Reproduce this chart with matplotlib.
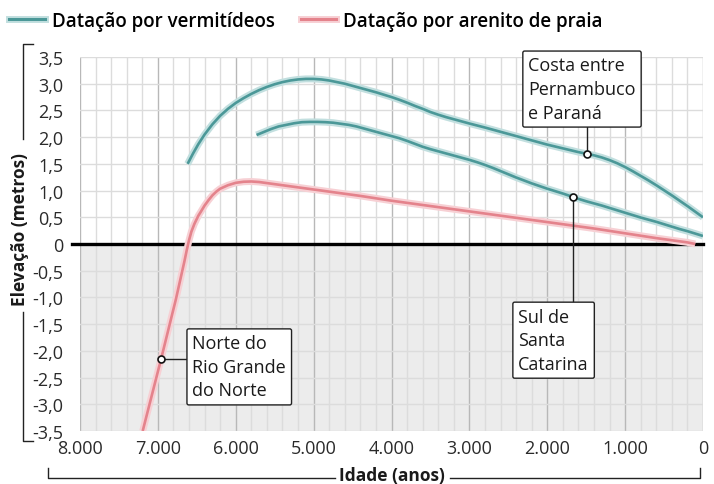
import matplotlib
matplotlib.use('Agg')
import matplotlib.pyplot as plt
import matplotlib.patheffects as pe
from matplotlib.lines import Line2D
from matplotlib.ticker import MultipleLocator, FixedLocator, FixedFormatter

plt.rcParams['font.family'] = ['Open Sans', 'DejaVu Sans']

# ----------------------------- data -----------------------------------
# Costa entre Pernambuco e Parana (vermitideos)
costa_x = [6618, 6550, 6480, 6400, 6300, 6200, 6100, 6000, 5900, 5800, 5700,
           5600, 5500, 5400, 5300, 5200, 5100, 5000, 4900, 4800, 4700, 4600,
           4500, 4400, 4300, 4200, 4100, 4000, 3900, 3800, 3700, 3600, 3500,
           3400, 3300, 3200, 3100, 3000, 2800, 2600, 2400, 2200, 2000, 1800,
           1600, 1500, 1400, 1300, 1200, 1100, 1000, 900, 800, 700, 600, 500,
           400, 300, 200, 100, 0]
costa_y = [1.50, 1.69, 1.87, 2.05, 2.24, 2.40, 2.53, 2.64, 2.73, 2.81, 2.88,
           2.94, 2.99, 3.03, 3.06, 3.08, 3.09, 3.09, 3.08, 3.06, 3.03, 3.00,
           2.96, 2.92, 2.88, 2.84, 2.795, 2.75, 2.70, 2.645, 2.585, 2.53, 2.47,
           2.42, 2.375, 2.335, 2.295, 2.255, 2.18, 2.10, 2.02, 1.94, 1.86, 1.79,
           1.72, 1.69, 1.66, 1.62, 1.57, 1.51, 1.44, 1.36, 1.275, 1.19, 1.10, 1.005,
           0.91, 0.81, 0.71, 0.605, 0.50]

# Sul de Santa Catarina (vermitideos)
sul_x = [5733, 5650, 5550, 5450, 5350, 5250, 5150, 5050, 4950, 4850, 4750,
         4650, 4550, 4450, 4350, 4250, 4150, 4050, 3900, 3800, 3700, 3600,
         3500, 3400, 3300, 3200, 3100, 3000, 2900, 2800, 2700, 2600, 2500,
         2400, 2300, 2200, 2100, 2000, 1900, 1800, 1700, 1600, 1500, 1400,
         1300, 1200, 1100, 1000, 900, 800, 700, 600, 500, 400, 300, 200, 100, 0]
sul_y = [2.04, 2.09, 2.15, 2.20, 2.23, 2.26, 2.28, 2.285, 2.285, 2.28, 2.27,
         2.25, 2.23, 2.20, 2.16, 2.12, 2.08, 2.04, 1.98, 1.93, 1.875, 1.82,
         1.775, 1.735, 1.695, 1.655, 1.615, 1.575, 1.53, 1.48, 1.425, 1.365, 1.305,
         1.245, 1.19, 1.135, 1.085, 1.035, 0.99, 0.945, 0.895, 0.845, 0.80, 0.76,
         0.72, 0.675, 0.63, 0.585, 0.54, 0.495, 0.455, 0.415, 0.37, 0.325, 0.28,
         0.24, 0.195, 0.15]

# Norte do Rio Grande do Norte (arenito de praia)
norte_x = [7195, 6960, 6768, 6660, 6630, 6600, 6570, 6530, 6480, 6450, 6400,
           6350, 6300, 6250, 6200, 6100, 6000, 5900, 5800, 5700, 5600, 5500,
           5400, 5200, 5000, 4800, 4600, 4400, 4200, 4000, 3800, 3600, 3400,
           3200, 3000, 2800, 2600, 2400, 2200, 2000, 1800, 1600, 1400, 1200,
           1000, 800, 600, 400, 200, 100]
norte_y = [-3.5, -2.16, -1.03, -0.33, -0.12, 0.07, 0.23, 0.38, 0.53, 0.60, 0.72,
           0.82, 0.91, 0.98, 1.035, 1.10, 1.145, 1.165, 1.17, 1.16, 1.14, 1.12,
           1.10, 1.06, 1.02, 0.98, 0.94, 0.90, 0.855, 0.81, 0.77, 0.73, 0.69,
           0.65, 0.61, 0.57, 0.53, 0.49, 0.45, 0.41, 0.37, 0.33, 0.29, 0.245,
           0.20, 0.155, 0.11, 0.07, 0.03, 0.0]

# labelled points
costa_pt = (1488, 1.69)
sul_pt = (1667, 0.88)
norte_pt = (6960, -2.16)

x_ticks = [8000, 7000, 6000, 5000, 4000, 3000, 2000, 1000, 0]
x_labels = ['8.000', '7.000', '6.000', '5.000', '4.000', '3.000', '2.000', '1.000', '0']
y_ticks = [3.5, 3.0, 2.5, 2.0, 1.5, 1.0, 0.5, 0, -0.5, -1.0, -1.5, -2.0, -2.5, -3.0, -3.5]
y_labels = ['0' if v == 0 else ('%.1f' % v).replace('.', ',') for v in y_ticks]

legend_labels = ['Datação por vermitídeos', 'Datação por arenito de praia']

# ----------------------------- style ----------------------------------
teal = '#4b9898'
teal_halo = '#c2dfdf'
pink = '#e4838c'
pink_halo = '#f7d0d4'
txt = '#1a1a1a'

fig = plt.figure(figsize=(7.14, 4.85), dpi=100)
ax = fig.add_axes([80 / 714, 1 - 432 / 485, (703 - 80) / 714, (432 - 58) / 485])

ax.axhspan(-3.5, 0, color='#ececec', zorder=0, lw=0)
ax.set_axisbelow(True)

ax.set_xlim(8000, 0)
ax.set_ylim(-3.5, 3.5)
ax.xaxis.set_major_locator(FixedLocator(x_ticks))
ax.xaxis.set_major_formatter(FixedFormatter(x_labels))
ax.xaxis.set_minor_locator(MultipleLocator(200))
ax.yaxis.set_major_locator(FixedLocator(y_ticks))
ax.yaxis.set_major_formatter(FixedFormatter(y_labels))

ax.grid(which='minor', axis='x', color='#dcdcdc', lw=1)
ax.grid(which='major', axis='x', color='#b8b8b8', lw=1)
ax.grid(which='major', axis='y', color='#dcdcdc', lw=1)

for s in ax.spines.values():
    s.set_visible(False)
ax.tick_params(which='both', length=0, labelsize=13, colors='#2a2a2a')
ax.tick_params(axis='y', pad=12)
ax.tick_params(axis='x', pad=6)

ax.axhline(0, xmin=-0.013, xmax=1, color='black', lw=2.4, zorder=3, clip_on=False)


def halo(c):
    return [pe.Stroke(linewidth=5, foreground=c), pe.Normal()]


ax.plot(norte_x, norte_y, color=pink, lw=1.9, zorder=4, path_effects=halo(pink_halo),
        solid_capstyle='butt', solid_joinstyle='round')
ax.plot(sul_x, sul_y, color=teal, lw=1.9, zorder=4, path_effects=halo(teal_halo),
        solid_capstyle='butt', solid_joinstyle='round')
ax.plot(costa_x, costa_y, color=teal, lw=1.9, zorder=4, path_effects=halo(teal_halo),
        solid_capstyle='butt', solid_joinstyle='round')

# annotations
box = dict(boxstyle='round,pad=0.3,rounding_size=0.1', fc='white', ec='#222222', lw=1)
ax.plot([costa_pt[0], costa_pt[0]], [costa_pt[1], 2.6], color='#222222', lw=1, zorder=5)
ax.plot([sul_pt[0], sul_pt[0]], [sul_pt[1], -1.4], color='#222222', lw=1, zorder=5)
ax.plot([norte_pt[0], 6400], [norte_pt[1], norte_pt[1]], color='#222222', lw=1, zorder=5)

ax.text(2244, 3.51, 'Costa entre\nPernambuco\ne Paraná', ha='left', va='top', fontsize=13,
        linespacing=1.4, color=txt, bbox=box, zorder=6, clip_on=False)
ax.text(2372, -1.19, 'Sul de\nSanta\nCatarina', ha='left', va='top', fontsize=13,
        linespacing=1.4, color=txt, bbox=box, zorder=6)
ax.text(6557, -1.69, 'Norte do\nRio Grande\ndo Norte', ha='left', va='top', fontsize=13,
        linespacing=1.4, color=txt, bbox=box, zorder=6)

for p in [costa_pt, sul_pt, norte_pt]:
    ax.plot([p[0]], [p[1]], marker='o', ms=5, mfc='white', mec='#111111', mew=1.2, zorder=7)

# legend
handles = [Line2D([0], [0], color=teal, lw=2.2, path_effects=halo(teal_halo)),
           Line2D([0], [0], color=pink, lw=2.2, path_effects=halo(pink_halo))]
fig.legend(handles, legend_labels, loc='center left', bbox_to_anchor=(0.0, 1 - 22 / 485),
           ncol=2, frameon=False, handlelength=1.9, handletextpad=0.35,
           columnspacing=1.4, borderaxespad=0.15, borderpad=0.35,
           prop={'size': 13.5, 'weight': 'semibold'})

# axis titles with bracket lines, drawn in pixel space
ov = fig.add_axes([0, 0, 1, 1])
ov.set_xlim(0, 714)
ov.set_ylim(485, 0)
ov.axis('off')
ov.patch.set_alpha(0)
bc = '#222222'
ov.plot([33, 22.5, 22.5], [45, 45, 140], color=bc, lw=1)
ov.plot([22.5, 22.5, 33], [313, 442, 442], color=bc, lw=1)
ov.text(20, 230, 'Elevação (metros)', rotation=90, ha='center', va='center',
        fontsize=12.5, fontweight='bold', color=txt)
ov.plot([48, 48, 335], [469, 479, 479], color=bc, lw=1)
ov.plot([450, 700, 700], [479, 479, 469], color=bc, lw=1)
ov.text(392, 476, 'Idade (anos)', ha='center', va='center',
        fontsize=12.5, fontweight='bold', color=txt)

fig.savefig('out.png', dpi=100)
